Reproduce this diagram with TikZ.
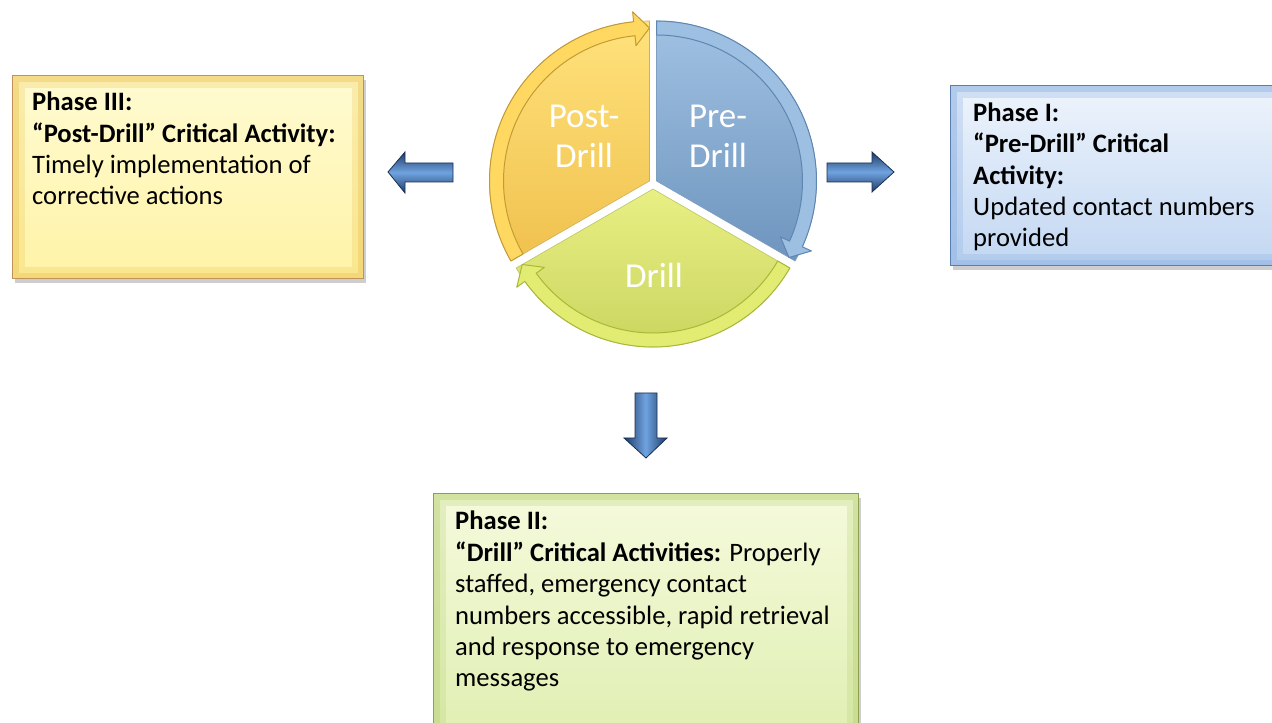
\documentclass[tikz,border=0pt]{standalone}
\usepackage{fontspec}
\setmainfont{Carlito}
\usetikzlibrary{shadows}
\definecolor{preTop}{HTML}{A0C1E2}
\definecolor{preBot}{HTML}{6E95BE}
\definecolor{preBand}{HTML}{9DBFE1}
\definecolor{preLine}{HTML}{5F86B0}
\definecolor{postTop}{HTML}{FFE27C}
\definecolor{postBot}{HTML}{F0C14E}
\definecolor{postBand}{HTML}{FFD862}
\definecolor{postLine}{HTML}{C39B36}
\definecolor{drTop}{HTML}{E8EF84}
\definecolor{drBot}{HTML}{C6D25A}
\definecolor{drBand}{HTML}{E2EB72}
\definecolor{drLine}{HTML}{A9B83A}
\definecolor{arrDark}{HTML}{1F3A66}
\definecolor{arrLight}{HTML}{6FA3E0}
\definecolor{arrEdge}{HTML}{1A2F52}
\definecolor{yBorder}{HTML}{C0915A}
\definecolor{yBevel}{HTML}{EDC95A}
\definecolor{yTop}{HTML}{FFFBD2}
\definecolor{yBot}{HTML}{FFF3A6}
\definecolor{bBorder}{HTML}{5A7DB0}
\definecolor{bBevel}{HTML}{8FB2E2}
\definecolor{bTop}{HTML}{EEF4FC}
\definecolor{bBot}{HTML}{C2D7F2}
\definecolor{gBorder}{HTML}{8CA050}
\definecolor{gBevel}{HTML}{BCD47E}
\definecolor{gTop}{HTML}{F5FADC}
\definecolor{gBot}{HTML}{E0EFB2}
\tikzset{
  phasebox/.style n args={4}{draw=#1, line width=1.2pt, top color=#3, bottom color=#4,
    anchor=north west, inner sep=0pt,
    drop shadow={shadow xshift=2pt, shadow yshift=-4pt, opacity=.35, fill=black!55},
    path picture={
      \draw[line width=24pt, draw=#2, opacity=.30] (path picture bounding box.south west) rectangle (path picture bounding box.north east);
      \draw[line width=12pt, draw=#2, opacity=.45] (path picture bounding box.south west) rectangle (path picture bounding box.north east);
    }},
  boxtext/.style={anchor=base west, align=left, inner sep=0pt, text=black,
    font=\fontsize{26.6}{31.4}\selectfont},
  wedgelabel/.style={anchor=base, align=center, inner sep=0pt, text=white,
    font=\fontsize{35}{40}\selectfont},
  blockarrowH/.style={draw=arrEdge, line width=0.8pt, top color=arrDark, bottom color=arrDark, middle color=arrLight},
  blockarrowV/.style={draw=arrEdge, line width=0.8pt, left color=arrDark, right color=arrDark, middle color=arrLight},
  band/.style n args={2}{fill=#1, draw=#2, line width=1pt, line join=round}
}
\begin{document}
\begin{tikzpicture}[x=1pt,y=1pt]
\clip (0,0) rectangle (1272,723);
\fill[white] (0,0) rectangle (1272,723);

% ---------- cycle wedges ----------
% Pre-Drill
\begin{scope}[shift={(656.5,542)}]
  \path[top color=preTop, bottom color=preBot, draw=preLine!80, line width=0.6pt]
    (0,0) -- (90:160) arc[start angle=90, end angle=-30, radius=160] -- cycle;
  \path[band={preBand}{preLine}]
    (90:160) arc[start angle=90, end angle=-24.3, radius=160] -- (-24.3:170) -- (-30:153)
    -- (-24.3:136) -- (-24.3:146) arc[start angle=-24.3, end angle=90, radius=146] -- cycle;
\end{scope}
% Post-Drill
\begin{scope}[shift={(649.5,542)}]
  \path[top color=postTop, bottom color=postBot, draw=postLine!80, line width=0.6pt]
    (0,0) -- (210:160) arc[start angle=210, end angle=90, radius=160] -- cycle;
  \path[band={postBand}{postLine}]
    (210:160) arc[start angle=210, end angle=95.7, radius=160] -- (95.7:170) -- (90:153)
    -- (95.7:136) -- (95.7:146) arc[start angle=95.7, end angle=210, radius=146] -- cycle;
\end{scope}
% Drill
\begin{scope}[shift={(653,534)}]
  \path[top color=drTop, bottom color=drBot, draw=drLine!80, line width=0.6pt]
    (0,0) -- (330:158) arc[start angle=330, end angle=210, radius=158] -- cycle;
  \path[band={drBand}{drLine}]
    (330:158) arc[start angle=330, end angle=215.8, radius=158] -- (215.8:168) -- (210:151)
    -- (215.8:134) -- (215.8:144) arc[start angle=215.8, end angle=330, radius=144] -- cycle;
\end{scope}

\node[wedgelabel] (lpost) at (584,555) {Post-\\Drill};
\node[wedgelabel] (lpre) at (718,555) {Pre-\\Drill};
\node[wedgelabel] (ldrill) at (654,435) {Drill};

% ---------- block arrows ----------
\path[blockarrowH] (453,560) -- (405,560) -- (405,571) -- (388,551) -- (405,530) -- (405,541) -- (453,541) -- cycle;
\path[blockarrowH] (827,560) -- (872,560) -- (872,571) -- (894,551) -- (872,531) -- (872,541) -- (827,541) -- cycle;
\path[blockarrowV] (635,330) -- (657,330) -- (657,285) -- (667,285) -- (646,265) -- (624,285) -- (635,285) -- cycle;

% ---------- phase boxes ----------
\node[phasebox={yBorder}{yBevel}{yTop}{yBot}, minimum width=351, minimum height=203] (p3box) at (12,648) {};
\node[phasebox={bBorder}{bBevel}{bTop}{bBot}, minimum width=340, minimum height=180] (p1box) at (950,638) {};
\node[phasebox={gBorder}{gBevel}{gTop}{gBot}, minimum width=425, minimum height=245] (p2box) at (433,230) {};

% base anchor = baseline of the last line
\node[boxtext] (p3text) at (32,518) {\textbf{Phase III:}\\\textbf{“Post-Drill” Critical Activity:}\\Timely implementation of\\corrective actions};
\node[boxtext] (p1text) at (973,476) {\textbf{Phase I:}\\\textbf{“Pre-Drill” Critical}\\\textbf{Activity:}\\Updated contact numbers\\provided};
\node[boxtext] (p2text) at (455,36) {\textbf{Phase II:}\\\textbf{“Drill” Critical Activities:} Properly\\staffed, emergency contact\\numbers accessible, rapid retrieval\\and response to emergency\\messages};
\end{tikzpicture}
\end{document}
